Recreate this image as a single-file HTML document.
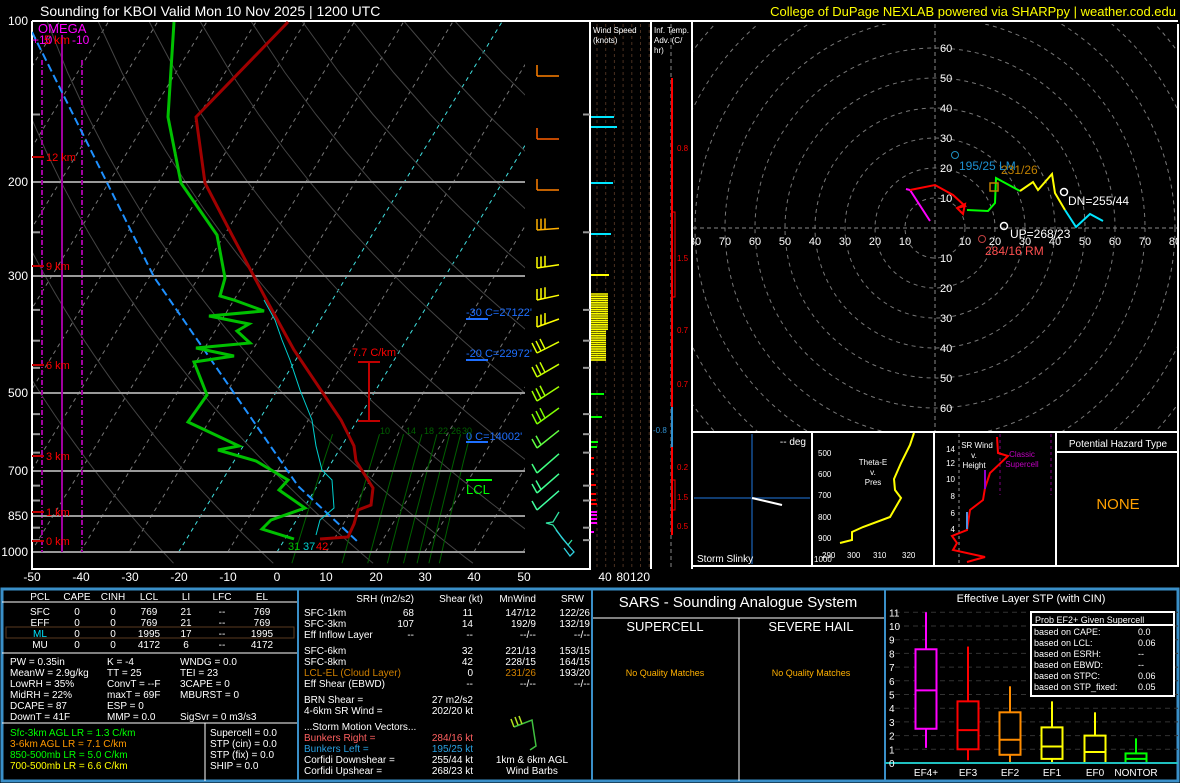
<!DOCTYPE html>
<html><head><meta charset="utf-8">
<style>
html,body{margin:0;padding:0;background:#000;}
svg{display:block;}
text{font-family:"Liberation Sans",sans-serif;}
</style></head>
<body>
<svg id="s" width="1180" height="783" viewBox="0 0 1180 783" xmlns="http://www.w3.org/2000/svg">
<defs>
<clipPath id="skc"><rect x="32" y="21" width="493" height="548"/></clipPath>
<clipPath id="hc"><rect x="693" y="24" width="485" height="408"/></clipPath>
</defs>
<rect width="1180" height="783" fill="#000"/>
<g id="grid" clip-path="url(#skc)"></g>
<g id="hodo" clip-path="url(#hc)"></g>
<g id="barbs"></g>

<text x="40" y="16" fill="#fff" font-size="14">Sounding for KBOI Valid  Mon 10 Nov 2025 | 1200 UTC</text>
<text x="1176" y="16" fill="#ffff00" font-size="13" text-anchor="end">College of DuPage NEXLAB powered via SHARPpy | weather.cod.edu</text>

<g stroke="#999" stroke-width="2">
<line x1="32" y1="182" x2="525" y2="182"/><line x1="32" y1="276" x2="525" y2="276"/>
<line x1="32" y1="393" x2="525" y2="393"/><line x1="32" y1="471" x2="525" y2="471"/>
<line x1="32" y1="516" x2="525" y2="516"/><line x1="32" y1="552" x2="525" y2="552"/>
</g>
<path d="M32,21 H1178 M32,21 V569 H590 V21 M590,21 V569 M651,21 V569 M692,21 V569" stroke="#fff" stroke-width="2" fill="none"/>
<g fill="#fff" font-size="12" text-anchor="end">
<text x="28" y="25">100</text><text x="28" y="186">200</text><text x="28" y="280">300</text>
<text x="28" y="397">500</text><text x="28" y="475">700</text><text x="28" y="520">850</text><text x="28" y="556">1000</text>
</g>
<g fill="#fff" font-size="12" text-anchor="middle">
<text x="32" y="581">-50</text><text x="81" y="581">-40</text><text x="130" y="581">-30</text><text x="179" y="581">-20</text>
<text x="228" y="581">-10</text><text x="277" y="581">0</text><text x="326" y="581">10</text><text x="376" y="581">20</text>
<text x="425" y="581">30</text><text x="474" y="581">40</text><text x="524" y="581">50</text>
<text x="605" y="581">40</text><text x="623" y="581">80</text><text x="640" y="581">120</text>
</g>

<g stroke="#a000a0" stroke-width="2"><line x1="62" y1="35" x2="62" y2="552"/></g>
<g stroke="#a000a0" stroke-width="2" stroke-dasharray="5,2,1,2"><line x1="42" y1="60" x2="42" y2="552"/><line x1="82" y1="60" x2="82" y2="552"/></g>
<text x="38" y="33" fill="#ff00ff" font-size="13">OMEGA</text>
<text x="32" y="44" fill="#ff00ff" font-size="12">+10</text><text x="44" y="44" fill="#ff0000" font-size="12">5 km</text><text x="72" y="44" fill="#ff00ff" font-size="12">-10</text>
<g stroke="#c00000" stroke-width="2"><line x1="32" y1="157" x2="44" y2="157"/><line x1="32" y1="266" x2="44" y2="266"/><line x1="32" y1="365" x2="44" y2="365"/><line x1="32" y1="456" x2="44" y2="456"/><line x1="32" y1="512" x2="44" y2="512"/><line x1="32" y1="541" x2="44" y2="541"/></g>
<g fill="#ff0000" font-size="11"><text x="46" y="161">12 km</text><text x="46" y="270">9 km</text><text x="46" y="369">6 km</text><text x="46" y="460">3 km</text><text x="46" y="516">1 km</text><text x="46" y="545">0 km</text></g>

<g clip-path="url(#skc)" fill="none">
<polyline points="32,32 154,277 298,486 358,542" stroke="#1e90ff" stroke-width="2" stroke-dasharray="8,4"/>
<polyline points="264,300 275,320 282,340 290,360 300,390 312,420 316,446 322,470 332,480 334,508 320,520 316,535" stroke="#00d0d0" stroke-width="1"/>
<polyline points="174,22 168,117 181,183 217,235 225,278 220,296 234,300 264,311 209,316 249,324 237,331 250,343 196,348 234,356 194,362 207,395 188,422 239,446 218,450 256,461 288,480 279,490 305,508 271,520 262,529 294,539" stroke="#00c000" stroke-width="3"/>
<polyline points="288,22 196,117 205,183 232,235 267,301 294,350 341,420 354,446 356,461 373,488 371,505 358,510 354,524 348,537 320,539" stroke="#a00000" stroke-width="3"/>
</g>
<g fill="none" stroke="#c00000" stroke-width="2"><line x1="369" y1="362" x2="369" y2="421"/><line x1="358" y1="362" x2="380" y2="362"/><line x1="358" y1="421" x2="380" y2="421"/></g>
<text x="352" y="356" fill="#ff0000" font-size="11">7.7 C/km</text>
<g font-size="11"><text x="288" y="550" fill="#00c000">31</text><text x="303" y="550" fill="#00d0d0">37</text><text x="316" y="550" fill="#ff0000">42</text></g>
<g fill="#1e6fff" font-size="11"><text x="466" y="316">-30 C=27122'</text><text x="466" y="357">-20 C=22972'</text><text x="466" y="440">0 C=14002'</text></g>
<g stroke="#1e6fff" stroke-width="2"><line x1="466" y1="319" x2="488" y2="319"/><line x1="466" y1="360" x2="488" y2="360"/><line x1="466" y1="442" x2="488" y2="442"/></g>
<line x1="466" y1="480" x2="492" y2="480" stroke="#00ff00" stroke-width="2"/>
<text x="466" y="494" fill="#00ff00" font-size="13">LCL</text>
<g fill="#006000" font-size="9"><text x="380" y="434">10</text><text x="406" y="434">14</text><text x="424" y="434">18</text><text x="438" y="434">22</text><text x="451" y="434">26</text><text x="462" y="434">30</text></g>

<g id="ws"></g>
<text x="593" y="33" fill="#fff" font-size="8">Wind Speed</text><text x="593" y="43" fill="#fff" font-size="8">(knots)</text>
<text x="654" y="33" fill="#fff" font-size="8">Inf. Temp.</text><text x="654" y="43" fill="#fff" font-size="8">Adv. (C/</text><text x="654" y="53" fill="#fff" font-size="8">hr)</text>
<line x1="671" y1="24" x2="671" y2="569" stroke="#888" stroke-dasharray="4,3"/>
<g stroke="#ff0000" stroke-width="2"><line x1="672" y1="78" x2="672" y2="407"/><line x1="672" y1="447" x2="672" y2="535"/></g>
<line x1="672" y1="407" x2="672" y2="447" stroke="#3090d0" stroke-width="2"/>
<g stroke="#ff0000" fill="none"><path d="M672,212 H675 V297 H672 M672,480 H675 V510 H672"/></g>
<g fill="#ff0000" font-size="8"><text x="677" y="151">0.8</text><text x="677" y="261">1.5</text><text x="677" y="333">0.7</text><text x="677" y="387">0.7</text><text x="677" y="470">0.2</text><text x="677" y="500">1.5</text><text x="677" y="529">0.5</text></g>
<text x="653" y="433" fill="#3090d0" font-size="8">-0.8</text>

<g fill="none" stroke-width="2">
<polyline points="930,221 910,190 906,189" stroke="#ff00ff"/>
<polyline points="910,190 935,185 953,195 965,206 957,208" stroke="#ff0000"/>
<polyline points="967,210 988,211 995,203 996,178 1020,191" stroke="#00ff00"/>
<polyline points="1020,191 1033,182 1038,190 1052,174 1055,193 1065,210" stroke="#ffff00"/>
<polyline points="1065,210 1076,227 1090,214 1103,221" stroke="#00e5ff"/>
<path d="M957,208 l8,-4 l-2,10 z" stroke="#ff0000"/>
<circle cx="955" cy="155" r="3.5" stroke="#1e90c0" stroke-width="1"/>
<circle cx="982" cy="239" r="3.5" stroke="#c04040" stroke-width="1"/>
<circle cx="1004" cy="226" r="3.5" stroke="#fff" stroke-width="1.5"/>
<circle cx="1064" cy="192" r="3.5" stroke="#fff" stroke-width="1.5"/>
<rect x="990" y="183" width="8" height="8" stroke="#c08000" stroke-width="1.5"/>
</g>
<g font-size="12"><text x="959" y="170" fill="#1e90d0">195/25 LM</text><text x="1001" y="174" fill="#c08000">231/26</text>
<text x="1068" y="205" fill="#fff">DN=255/44</text><text x="1010" y="238" fill="#fff">UP=268/23</text><text x="985" y="255" fill="#ff5050">284/16 RM</text></g>
<path d="M692,432 H1178 V24 M692,432 V566 H1178 V432 M812,432 V566 M934,432 V566 M1056,432 V566 M1057,452 H1178" stroke="#fff" stroke-width="2" fill="none"/>

<g stroke="#103c70" stroke-width="2"><line x1="752" y1="434" x2="752" y2="564"/><line x1="694" y1="498" x2="810" y2="498"/></g>
<line x1="752" y1="498" x2="782" y2="505" stroke="#fff" stroke-width="2"/>
<text x="806" y="445" fill="#fff" font-size="10" text-anchor="end">-- deg</text>
<text x="697" y="562" fill="#fff" font-size="10">Storm Slinky</text>
<polyline points="840,543 852,540 852,532 863,527 890,517 901,498 895,490 894,479 901,463 910,445 914,433" stroke="#ffff00" stroke-width="2" fill="none"/>
<g fill="#fff" font-size="8"><text x="818" y="456">500</text><text x="818" y="477">600</text><text x="818" y="498">700</text><text x="818" y="520">800</text><text x="818" y="541">900</text><text x="814" y="562">1000</text>
<text x="822" y="558">290</text><text x="847" y="558">300</text><text x="873" y="558">310</text><text x="902" y="558">320</text>
<text x="873" y="465" text-anchor="middle">Theta-E</text><text x="873" y="475" text-anchor="middle">v.</text><text x="873" y="485" text-anchor="middle">Pres</text></g>
<line x1="959" y1="434" x2="959" y2="564" stroke="#999" stroke-dasharray="3,3"/>
<g stroke="#800080" stroke-dasharray="3,3"><line x1="1000" y1="434" x2="1000" y2="495"/><line x1="1051" y1="434" x2="1051" y2="495"/></g>
<polyline points="997,437 998,453 1008,456 990,473 985,488 983,500 970,510 967,530 952,536 957,543 953,550 985,557 967,562" stroke="#ff0000" stroke-width="2" fill="none"/>
<line x1="967" y1="512" x2="967" y2="529" stroke="#5090e0" stroke-width="2"/>
<line x1="985" y1="470" x2="985" y2="489" stroke="#9000d0" stroke-width="2"/>
<g fill="#fff" font-size="8" text-anchor="end"><text x="955" y="452">14</text><text x="955" y="466">12</text><text x="955" y="482">10</text><text x="955" y="499">8</text><text x="955" y="516">6</text><text x="955" y="532">4</text></g>
<g fill="#fff" font-size="8" text-anchor="middle"><text x="977" y="448">SR Wind</text><text x="974" y="458">v.</text><text x="974" y="468">Height</text></g>
<g fill="#c000c0" font-size="8" text-anchor="middle"><text x="1022" y="457">Classic</text><text x="1022" y="467">Supercell</text></g>
<text x="1118" y="447" fill="#fff" font-size="10" text-anchor="middle">Potential Hazard Type</text>
<text x="1118" y="509" fill="#ffa000" font-size="15" text-anchor="middle">NONE</text>

<path d="M2,589 H1178 V781 H2 Z" stroke="#3a8fc8" stroke-width="3" fill="none"/>
<path d="M298,589 V781 M592,589 V781 M885,589 V781 M2,602 H298 M2,653 H298 M2,723 H298 M205,723 V781 M592,618 H885 M739,618 V781" stroke="#fff" stroke-width="1" fill="none"/>
<path d="M298,589 V781 M592,589 V781 M885,589 V781" stroke="#3a8fc8" stroke-width="2" fill="none"/>
<rect x="6" y="627" width="288" height="11" fill="none" stroke="#5a3a20"/>
<g fill="#fff" font-size="10" text-anchor="middle">
<text x="40" y="600">PCL</text><text x="77" y="600">CAPE</text><text x="113" y="600">CINH</text><text x="149" y="600">LCL</text><text x="186" y="600">LI</text><text x="222" y="600">LFC</text><text x="262" y="600">EL</text>
<text x="40" y="615">SFC</text><text x="77" y="615">0</text><text x="113" y="615">0</text><text x="149" y="615">769</text><text x="186" y="615">21</text><text x="222" y="615">--</text><text x="262" y="615">769</text>
<text x="40" y="626">EFF</text><text x="77" y="626">0</text><text x="113" y="626">0</text><text x="149" y="626">769</text><text x="186" y="626">21</text><text x="222" y="626">--</text><text x="262" y="626">769</text>
<text x="40" y="637" fill="#00e5ff">ML</text><text x="77" y="637">0</text><text x="113" y="637">0</text><text x="149" y="637">1995</text><text x="186" y="637">17</text><text x="222" y="637">--</text><text x="262" y="637">1995</text>
<text x="40" y="648">MU</text><text x="77" y="648">0</text><text x="113" y="648">0</text><text x="149" y="648">4172</text><text x="186" y="648">6</text><text x="222" y="648">--</text><text x="262" y="648">4172</text>
</g>
<g fill="#fff" font-size="10">
<text x="10" y="665">PW = 0.35in</text><text x="107" y="665">K = -4</text><text x="180" y="665">WNDG = 0.0</text>
<text x="10" y="676">MeanW = 2.9g/kg</text><text x="107" y="676">TT = 25</text><text x="180" y="676">TEI = 23</text>
<text x="10" y="687">LowRH = 35%</text><text x="107" y="687">ConvT = --F</text><text x="180" y="687">3CAPE = 0</text>
<text x="10" y="698">MidRH = 22%</text><text x="107" y="698">maxT = 69F</text><text x="180" y="698">MBURST = 0</text>
<text x="10" y="709">DCAPE = 87</text><text x="107" y="709">ESP = 0</text>
<text x="10" y="720">DownT = 41F</text><text x="107" y="720">MMP = 0.0</text><text x="180" y="720">SigSvr = 0 m3/s3</text>
<text x="10" y="736" fill="#00ff00">Sfc-3km AGL LR = 1.3 C/km</text>
<text x="10" y="747" fill="#ff9900">3-6km AGL LR = 7.1 C/km</text>
<text x="10" y="758" fill="#00ff00">850-500mb LR = 5.0 C/km</text>
<text x="10" y="769" fill="#ffff00">700-500mb LR = 6.6 C/km</text>
<text x="210" y="736">Supercell = 0.0</text><text x="210" y="747">STP (cin) = 0.0</text><text x="210" y="758">STP (fix) = 0.0</text><text x="210" y="769">SHIP = 0.0</text>
<text x="304" y="616">SFC-1km</text><text x="304" y="627">SFC-3km</text><text x="304" y="638">Eff Inflow Layer</text>
<text x="304" y="654">SFC-6km</text><text x="304" y="665">SFC-8km</text><text x="304" y="676" fill="#d08000">LCL-EL (Cloud Layer)</text><text x="304" y="687">Eff Shear (EBWD)</text>
<text x="304" y="703">BRN Shear =</text><text x="304" y="714">4-6km SR Wind =</text>
<text x="304" y="730">...Storm Motion Vectors...</text>
<text x="304" y="741" fill="#ff6060">Bunkers Right =</text><text x="304" y="752" fill="#2aa0e0">Bunkers Left =</text>
<text x="304" y="763">Corfidi Downshear =</text><text x="304" y="774">Corfidi Upshear =</text>
</g>
<g fill="#fff" font-size="10" text-anchor="end">
<text x="414" y="602">SRH (m2/s2)</text><text x="483" y="602">Shear (kt)</text><text x="536" y="602">MnWind</text><text x="584" y="602">SRW</text>
<text x="414" y="616">68</text><text x="473" y="616">11</text><text x="536" y="616">147/12</text><text x="590" y="616">122/26</text>
<text x="414" y="627">107</text><text x="473" y="627">14</text><text x="536" y="627">192/9</text><text x="590" y="627">132/19</text>
<text x="414" y="638">--</text><text x="473" y="638">--</text><text x="536" y="638">--/--</text><text x="590" y="638">--/--</text>
<text x="473" y="654">32</text><text x="536" y="654">221/13</text><text x="590" y="654">153/15</text>
<text x="473" y="665">42</text><text x="536" y="665">228/15</text><text x="590" y="665">164/15</text>
<text x="473" y="676">0</text><text x="536" y="676" fill="#d08000">231/26</text><text x="590" y="676">193/20</text>
<text x="473" y="687">--</text><text x="536" y="687">--/--</text><text x="590" y="687">--/--</text>
<text x="473" y="703">27 m2/s2</text><text x="473" y="714">202/20 kt</text>
<text x="473" y="741" fill="#ff6060">284/16 kt</text><text x="473" y="752" fill="#2aa0e0">195/25 kt</text>
<text x="473" y="763">255/44 kt</text><text x="473" y="774">268/23 kt</text>
</g>
<g fill="none" stroke-width="1.5"><polyline points="514,727 532,720 536,746 530,750" stroke="#40c040"/><path d="M514,727 l-3,-8 M518,725 l-3,-8 M522,724 l-3,-8" stroke="#b0e020"/></g>
<g fill="#fff" font-size="10" text-anchor="middle"><text x="532" y="763">1km &amp; 6km AGL</text><text x="532" y="774">Wind Barbs</text></g>

<text x="738" y="607" fill="#fff" font-size="15" text-anchor="middle">SARS - Sounding Analogue System</text>
<text x="665" y="631" fill="#fff" font-size="13" text-anchor="middle">SUPERCELL</text>
<text x="811" y="631" fill="#fff" font-size="13" text-anchor="middle">SEVERE HAIL</text>
<text x="665" y="676" fill="#ffb000" font-size="9" text-anchor="middle">No Quality Matches</text>
<text x="811" y="676" fill="#ffb000" font-size="9" text-anchor="middle">No Quality Matches</text>

<text x="1031" y="602" fill="#fff" font-size="11" text-anchor="middle">Effective Layer STP (with CIN)</text>
<g id="stp"></g>
<line x1="885" y1="763" x2="1178" y2="763" stroke="#20c0c0" stroke-width="2"/>
<g fill="#fff" font-size="10" text-anchor="middle"><text x="926" y="776">EF4+</text><text x="968" y="776">EF3</text><text x="1010" y="776">EF2</text><text x="1052" y="776">EF1</text><text x="1095" y="776">EF0</text><text x="1136" y="776">NONTOR</text></g>
<rect x="1031" y="612" width="143" height="84" fill="#000" stroke="#fff" stroke-width="2"/>
<line x1="1031" y1="625" x2="1174" y2="625" stroke="#fff" stroke-width="2"/>
<g fill="#fff" font-size="9"><text x="1035" y="623">Prob EF2+ Given Supercell</text>
<text x="1034" y="635">based on CAPE:</text><text x="1138" y="635">0.0</text>
<text x="1034" y="646">based on LCL:</text><text x="1138" y="646">0.06</text>
<text x="1034" y="657">based on ESRH:</text><text x="1138" y="657">--</text>
<text x="1034" y="668">based on EBWD:</text><text x="1138" y="668">--</text>
<text x="1034" y="679">based on STPC:</text><text x="1138" y="679">0.06</text>
<text x="1034" y="690">based on STP_fixed:</text><text x="1138" y="690">0.05</text></g>
<g id="stpl" fill="#fff" font-size="10"></g>
</svg>
<script>
var NS="http://www.w3.org/2000/svg";
function el(parent,tag,attrs){var e=document.createElementNS(NS,tag);for(var k in attrs)e.setAttribute(k,attrs[k]);(typeof parent==="string"?document.getElementById(parent):parent).appendChild(e);return e;}
function Y(p){return 21+230.6*Math.log(p/100);}
function X(T,p){return 277+4.92*T+0.61*(552-Y(p));}
for(var T=-160;T<=50;T+=10){var c=(T==0||T==-20)?"#40e0e0":"#777";
el("grid","line",{x1:X(T,1000),y1:Y(1000),x2:X(T,100),y2:Y(100),stroke:c,"stroke-dasharray":"4,4","stroke-width":1});}
for(var th=250;th<=480;th+=20){var pts=[];for(var p=1050;p>=100;p-=25){var t=th*Math.pow(p/1000,0.2857)-273.15;pts.push(X(t,p).toFixed(1)+","+Y(p).toFixed(1));}
el("grid","polyline",{points:pts.join(" "),fill:"none",stroke:"#444","stroke-width":1});}
[5,10,14,18,22,26,30,34].forEach(function(w){var pts=[];for(var p=1050;p>=600;p-=25){var e=w*p/(622+w);var l=Math.log(e/6.112);var td=243.5*l/(17.67-l);pts.push(X(td,p).toFixed(1)+","+Y(p).toFixed(1));}
el("grid","polyline",{points:pts.join(" "),fill:"none",stroke:"#006000","stroke-width":1});});
[150,250,350,400,450,550,600,650,750,800,900,950].forEach(function(p){var y=Y(p);el("grid","line",{x1:32,y1:y,x2:40,y2:y,stroke:"#999","stroke-width":2});el("s","line",{x1:583,y1:y,x2:590,y2:y,stroke:"#999","stroke-width":2});});
var cx=935,cy=228;
for(var r=10;r<=100;r+=10){el("hodo","circle",{cx:cx,cy:cy,r:r*3,fill:"none",stroke:"#777","stroke-dasharray":"4,4"});}
el("hodo","line",{x1:693,y1:cy,x2:1178,y2:cy,stroke:"#888","stroke-dasharray":"4,3"});
el("hodo","line",{x1:cx,y1:24,x2:cx,y2:432,stroke:"#888","stroke-dasharray":"4,3"});
[10,20,30,40,50,60].forEach(function(v){
 var t=el("hodo","text",{x:cx+5,y:cy-v*3+4,fill:"#fff","font-size":"11"});t.textContent=v;
 t=el("hodo","text",{x:cx+5,y:cy+v*3+4,fill:"#fff","font-size":"11"});t.textContent=v;});
[10,20,30,40,50,60,70,80].forEach(function(v){
 var t=el("hodo","text",{x:cx+v*3,y:cy+17,fill:"#fff","font-size":"11","text-anchor":"middle"});t.textContent=v;
 t=el("hodo","text",{x:cx-v*3,y:cy+17,fill:"#fff","font-size":"11","text-anchor":"middle"});t.textContent=v;});
for(var i=0;i<7;i++){el("ws","line",{x1:597+i*8.7,y1:24,x2:597+i*8.7,y2:568,stroke:"#4a3020","stroke-dasharray":"3,3"});}
[[117,614,"#00e5ff"],[127,617,"#00e5ff"],[183,613,"#00e5ff"],[234,611,"#00e5ff"],[275,609,"#ffff00"],
[394,604,"#00ff00"],[417,602,"#00ff00"],[442,598,"#00ff00"],[447,597,"#00ff00"],
[458,594,"#ff0000"],[470,594,"#ff0000"],[474,594,"#ff0000"],[485,596,"#ff0000"],[494,596,"#ff0000"],[500,596,"#ff0000"],[504,597,"#ff0000"],
[512,597,"#ff00ff"],[515,597,"#ff00ff"],[519,597,"#ff00ff"],[523,597,"#ff00ff"],[532,594,"#ff00ff"]].forEach(function(b){
el("ws","line",{x1:591,y1:b[0],x2:b[1],y2:b[0],stroke:b[2],"stroke-width":2});});
for(var y=294;y<=360;y+=2.2){el("ws","line",{x1:591,y1:y,x2:608-((y>330)?2:0),y2:y,stroke:"#ffff00","stroke-width":1.6});}
var bs=[[76,"#ff8000",0,1],[139,"#ff6000",0,1],[190,"#ff8000",0,1],[229,"#ffb000",1,3],[266,"#ffff00",2,3],[297,"#ffff00",3,3],[322,"#ffff00",5,3],[346,"#e0ff00",7,3],[369,"#c8ff00",8,3],[392,"#a0ff00",9,3],[414,"#80ff00",10,3],[437,"#60ff40",11,2],[461,"#40ff80",12,1],[481,"#40ff90",12,2],[498,"#40ffa0",12,1]];
bs.forEach(function(b){var y=b[0],sl=b[2];var x0=537,y0=y+sl,x1=559,y1=y-sl*0.6;
 el("barbs","line",{x1:x0,y1:y0,x2:x1,y2:y1,stroke:b[1],"stroke-width":1.5});
 for(var k=0;k<b[3];k++){var fx=x0+k*4,fy=y0-(y0-y1)*k*4/22;var dx=sl>6?-5:0,dy=sl>6?-10:-11;
  if(sl>10){dx=-5;dy=-9;}
  el("barbs","line",{x1:fx,y1:fy,x2:fx+dx,y2:fy+dy,stroke:b[1],"stroke-width":1.5});}});
el("barbs","polyline",{points:"559,512 553,522 546,523 553,525 562,538 568,545 572,540",fill:"none",stroke:"#30e0a0","stroke-width":1.3});
el("barbs","polyline",{points:"556,530 568,545 574,552 570,556 564,548",fill:"none",stroke:"#30d0e0","stroke-width":1.3});
var z=763,u=13.7;
for(var v=1;v<=11;v++){el("stp","line",{x1:895,y1:z-v*u,x2:1178,y2:z-v*u,stroke:"#333","stroke-dasharray":"5,4"});
 var t=el("stpl","text",{x:889,y:z-v*u+4});t.textContent=v;}
var t0=el("stpl","text",{x:889,y:z+4});t0.textContent="0";
[[926,1.1,11,2.5,8.3,5.3,"#ff00ff"],[968,0.2,8.5,1,4.5,2.4,"#ff0000"],[1010,0,5.6,0.6,3.7,1.7,"#ff8c00"],[1052,0,4.5,0.3,2.6,1.2,"#ffff00"],[1095,0,3.7,0,2,0.8,"#ffff00"],[1136,0,1.8,0,0.7,0.3,"#00ff00"]].forEach(function(b){
 var x=b[0];el("stp","line",{x1:x,y1:z-b[1]*u,x2:x,y2:z-b[2]*u,stroke:b[6],"stroke-width":2});
 el("stp","rect",{x:x-10.5,y:z-b[4]*u,width:21,height:(b[4]-b[3])*u,fill:"#000",stroke:b[6],"stroke-width":2});
 el("stp","line",{x1:x-10.5,y1:z-b[5]*u,x2:x+10.5,y2:z-b[5]*u,stroke:b[6],"stroke-width":2});});
</script>
</body></html>
